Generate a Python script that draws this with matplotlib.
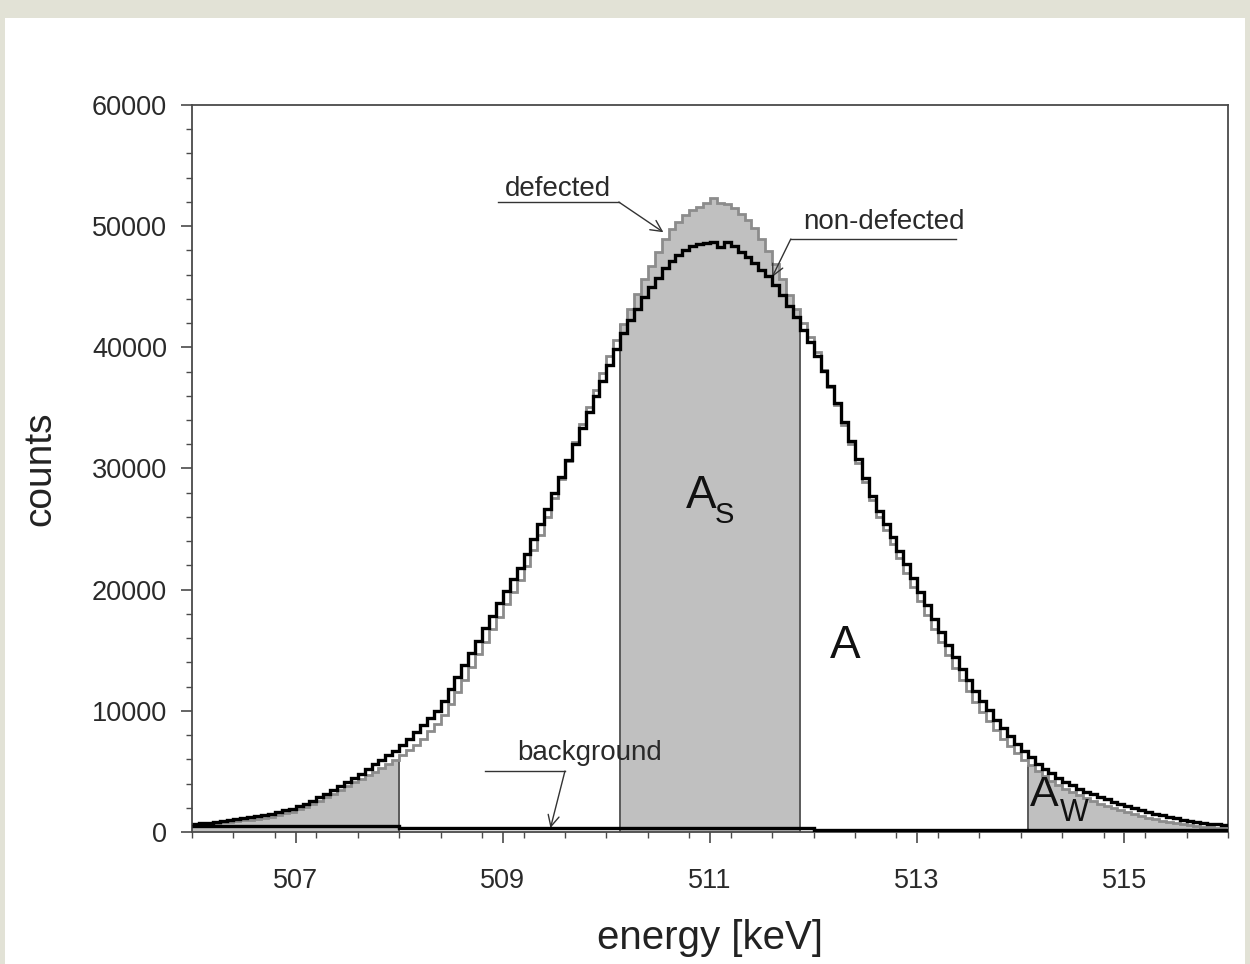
import matplotlib
matplotlib.use("Agg")
import matplotlib.pyplot as plt
import numpy as np
from matplotlib.patches import Rectangle
from matplotlib.ticker import MultipleLocator

plt.rcParams["font.family"] = ["Liberation Sans", "DejaVu Sans"]

# --- data (channel width 1/15 keV, 506 .. 516 keV) -------------------------
e_start = 506.0
e_stop = 516.0

non_defected = [
    675, 725, 775, 840, 925, 1010, 1090, 1175, 1260, 1340, 1425, 1510,
    1620, 1780, 1920, 2120, 2350, 2580, 2860, 3170, 3490, 3810, 4120, 4440,
    4800, 5200, 5600, 5980, 6350, 6720, 7170, 7700, 8230, 8800, 9400, 10000,
    10800, 11800, 12800, 13800, 14800, 15800, 16820, 17850, 18880,
    19880, 20850, 21820, 22920, 24150, 25380, 26670, 28000, 29330,
    30670, 32000, 33330, 34650, 35950, 37250, 38550, 39850, 41150,
    42270, 43200, 44130, 44980, 45750, 46520, 47130, 47600, 48070,
    48370, 48500, 48630, 48700, 48300, 48700, 48370, 47900, 47430,
    46930, 46400, 45870, 45170, 44300, 43430, 42480, 41450, 40420,
    39280, 38050, 36820, 35420, 33850, 32280, 30750, 29250, 27750,
    26470, 25400, 24330, 23230, 22100, 20970, 19830, 18700, 17570,
    16480, 15450, 14420, 13450, 12550, 11650, 10820, 10050, 9280,
    8570, 7900, 7230, 6650, 6150, 5650, 5220, 4850, 4480, 4160, 3880, 3590,
    3340, 3120, 2910, 2700, 2500, 2300, 2120, 1950, 1780, 1630, 1500, 1370,
    1240, 1130, 1020, 920, 830, 740, 680, 620, 580,
]

defected = [
    620, 670, 720, 760, 810, 860, 910, 965, 1020, 1090, 1175, 1260,
    1380, 1530, 1680, 1870, 2100, 2330, 2590, 2880, 3160, 3460, 3780, 4090,
    4390, 4680, 4960, 5270, 5600, 5930, 6320, 6750, 7180, 7700, 8300, 8900,
    9670, 10600, 11530, 12530, 13600, 14670, 15720, 16750, 17780,
    18800, 19800, 20800, 21950, 23250, 24550, 25980, 27550, 29120,
    30650, 32150, 33650, 35100, 36500, 37900, 39270, 40600, 41930,
    43200, 44400, 45600, 46750, 47850, 48950, 49780, 50350, 50920,
    51350, 51600, 51900, 52300, 51900, 51800, 51470, 51000, 50530,
    49830, 48900, 47970, 46870, 45600, 44330, 43130, 42000, 40870,
    39580, 38150, 36720, 35200, 33600, 32000, 30430, 28900, 27370,
    26030, 24900, 23770, 22600, 21400, 20200, 19030, 17900, 16770,
    15670, 14600, 13530, 12550, 11650, 10750, 9920, 9150, 8380,
    7700, 7100, 6500, 5970, 5500, 5030, 4620, 4250, 3880, 3570, 3300, 3030,
    2780, 2550, 2320, 2120, 1950, 1780, 1630, 1480, 1330, 1190, 1070, 940,
    830, 730, 630, 550, 490, 430, 380, 350, 320,
]

bg_edges = [506.0, 508.0, 512.0, 516.0]
bg_counts = [500, 330, 180]

# S and W windows (keV)
windows = [(506.0, 508.0), (510.133, 511.867), (514.067, 516.0)]

# --- figure ------------------------------------------------------------------
fig = plt.figure(figsize=(12.5, 9.64), dpi=100)
fig.patch.set_facecolor("#e2e2d6")
fig.add_artist(Rectangle((5 / 1250, 0), 1240 / 1250, 1 - 18 / 964,
                         transform=fig.transFigure, facecolor="white",
                         edgecolor="none", zorder=-10))

ax = fig.add_axes([192 / 1250, 132 / 964, 1036 / 1250, 727 / 964])
ax.set_facecolor("white")

n = len(defected)
edges = np.linspace(e_start, e_stop, n + 1)
centers = 0.5 * (edges[:-1] + edges[1:])
gray_vals = np.array(defected)

# shaded windows under the defected spectrum
for lo, hi in windows:
    m = (centers > lo) & (centers < hi)
    idx = np.where(m)[0]
    sub_edges = edges[idx[0]:idx[-1] + 2]
    ax.stairs(gray_vals[idx], sub_edges, baseline=0, fill=True,
              color="#c0c0c0", zorder=1)
    for x, v in ((sub_edges[0], gray_vals[idx[0]]), (sub_edges[-1], gray_vals[idx[-1]])):
        if e_start < x < e_stop:
            ax.vlines(x, 0, v, color="#5a5a5a", lw=1.4, zorder=2)

ax.stairs(defected, edges, baseline=None, color="#8c8c8c", lw=2.0, zorder=3)
ax.stairs(non_defected, edges, baseline=None, color="black", lw=2.4, zorder=4)
ax.stairs(bg_counts, bg_edges, baseline=None, color="black", lw=2.4, zorder=5)

ax.set_xlim(e_start, e_stop)
ax.set_ylim(0, 60000)
ax.xaxis.set_minor_locator(MultipleLocator(0.4))
ax.set_xticks(np.arange(507, 516, 2))
ax.yaxis.set_major_locator(MultipleLocator(10000))
ax.yaxis.set_minor_locator(MultipleLocator(2000))

for s in ax.spines.values():
    s.set_color("#4a4a4a")
    s.set_linewidth(1.3)
ax.tick_params(which="major", direction="out", length=8, width=1.2,
               color="#4a4a4a", labelsize=19.5, labelcolor="#2a2a2a", pad=10)
ax.tick_params(which="minor", direction="out", length=4, width=1.0,
               color="#4a4a4a")
ax.tick_params(axis="x", which="major", pad=18)

ax.set_xlabel("energy [keV]", fontsize=29, color="#222222", labelpad=18)
ax.set_ylabel("counts", fontsize=28, color="#222222", labelpad=24)

# --- annotations ----------------------------------------------------------------
txt = dict(fontsize=20, color="#2a2a2a")
arrow = dict(arrowstyle="->", color="#333333", lw=1.0, shrinkA=0, shrinkB=0,
             mutation_scale=20)

ax.text(509.02, 52500, "defected", ha="left", va="baseline", **txt)
ax.plot([508.95, 510.12], [51990, 51990], color="#333333", lw=1.0)
ax.annotate("", xy=(510.55, 49500), xytext=(510.12, 51990), arrowprops=arrow)

ax.text(511.9, 49770, "non-defected", ha="left", va="baseline", **txt)
ax.plot([511.78, 513.37], [48940, 48940], color="#333333", lw=1.0)
ax.annotate("", xy=(511.6, 45800), xytext=(511.78, 48940), arrowprops=arrow)

ax.text(509.14, 5940, "background", ha="left", va="baseline", **txt)
ax.plot([508.83, 509.6], [5030, 5030], color="#333333", lw=1.0)
ax.annotate("", xy=(509.46, 330), xytext=(509.6, 5030), arrowprops=arrow)

big = dict(color="#111111", ha="center", va="center", zorder=6)
ax.text(510.92, 27690, "A", fontsize=33, **big)
ax.text(511.14, 26160, "S", fontsize=21, **big)
ax.text(512.31, 15310, "A", fontsize=33, **big)
ax.text(514.23, 3050, "A", fontsize=31, **big)
ax.text(514.52, 1530, "W", fontsize=22, **big)

fig.savefig("out.png", dpi=100, facecolor=fig.get_facecolor())
